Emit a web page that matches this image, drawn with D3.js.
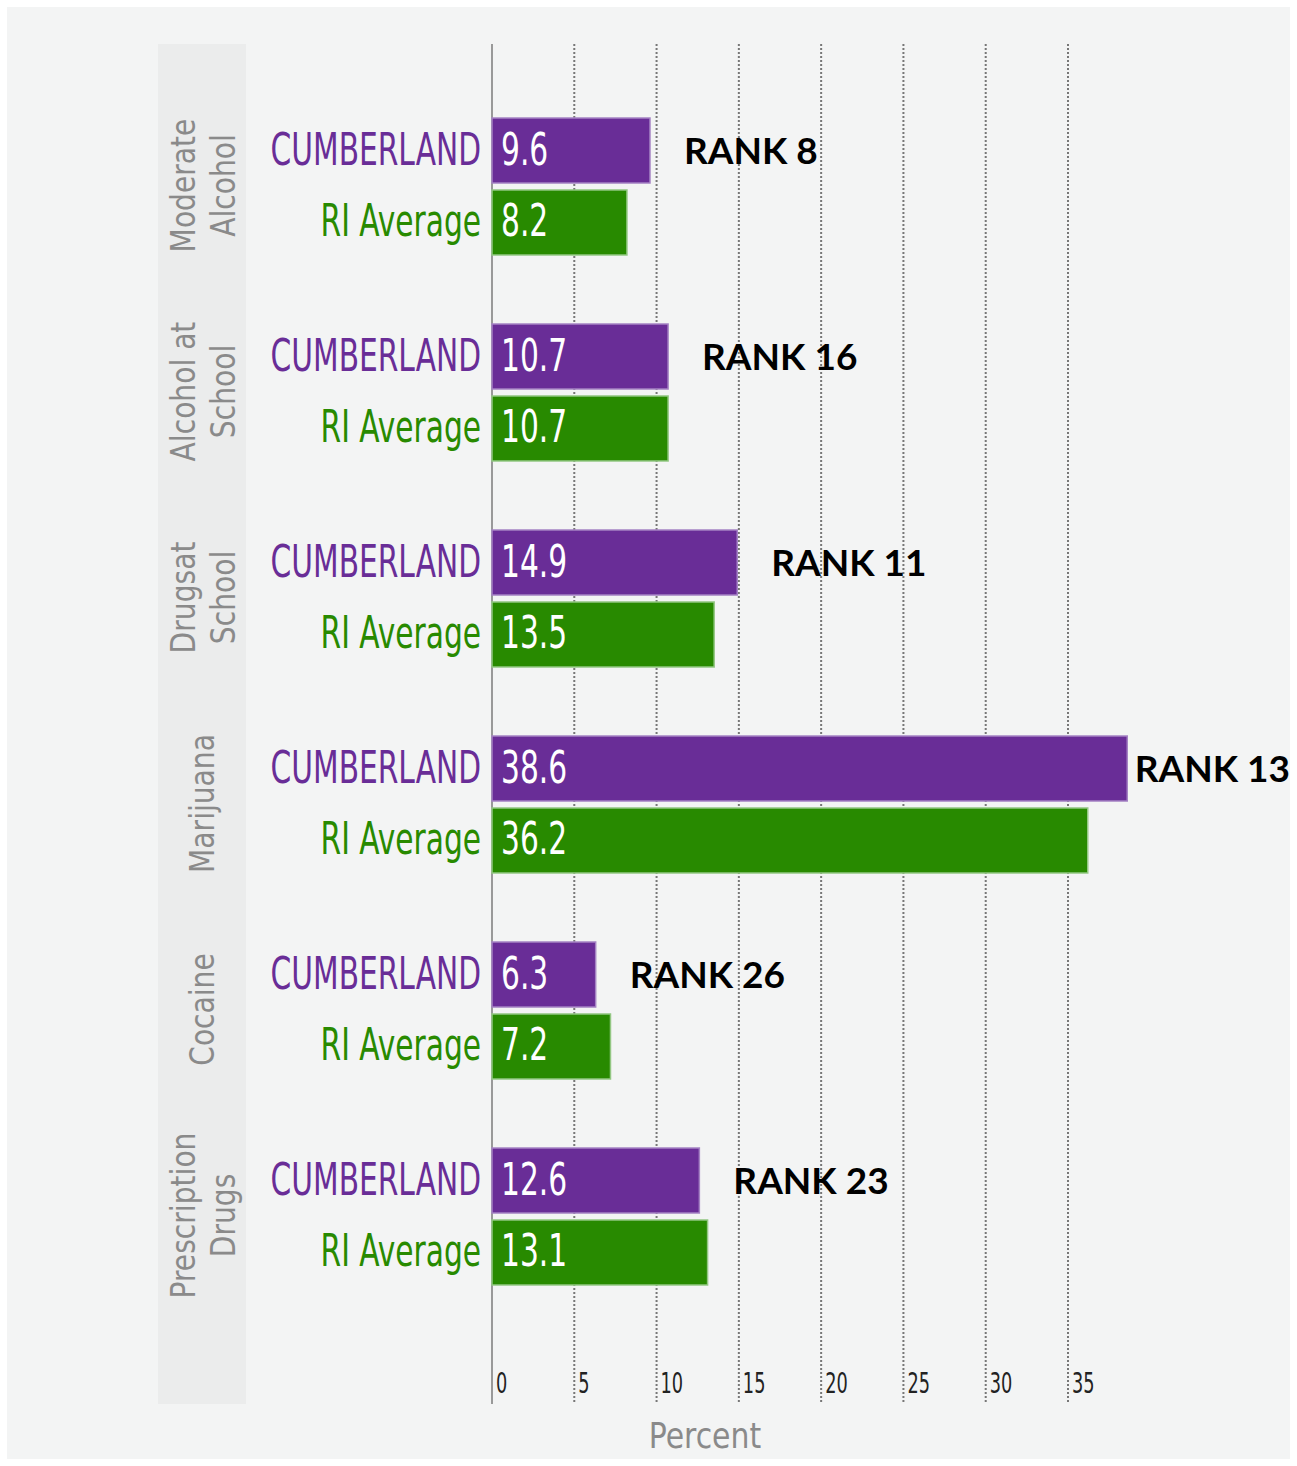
<!DOCTYPE html>
<meta charset="utf-8">
<style>
  body { margin: 0; background: #fff; }
  .narrow { font-family: "Liberation Sans Narrow", "DejaVu Sans Condensed", "Arial Narrow", sans-serif; font-stretch: condensed; }
  .rank { font-family: Lato, "Open Sans", sans-serif; font-weight: 700; fill: #000; }
  .grid line { stroke: #777; stroke-width: 2; stroke-dasharray: 2 2; }
</style>
<body>
<svg id="chart"></svg>
<script src="https://cdnjs.cloudflare.com/ajax/libs/d3/7.8.5/d3.min.js"></script>
<script>
  // data
  var categories = [["Moderate", "Alcohol"], ["Alcohol at", "School"], ["Drugsat", "School"],
                    ["Marijuana"], ["Cocaine"], ["Prescription", "Drugs"]];
  var series = ["CUMBERLAND", "RI Average"];
  var cumberland = [9.6, 10.7, 14.9, 38.6, 6.3, 12.6];
  var riAverage = [8.2, 10.7, 13.5, 36.2, 7.2, 13.1];
  var ranks = ["RANK 8", "RANK 16", "RANK 11", "RANK 13", "RANK 26", "RANK 23"];
  var ticks = [0, 5, 10, 15, 20, 25, 30, 35];

  var width = 1297, height = 1466;
  var colors = { "CUMBERLAND": "#692d97", "RI Average": "#288a00" };
  var strokes = { "CUMBERLAND": "#a583c4", "RI Average": "#93c783" };
  var squeeze = 0.75;

  var svg = d3.select("#chart").attr("width", width).attr("height", height);

  svg.append("rect")
    .attr("x", 7).attr("y", 7)
    .attr("width", width - 14).attr("height", height - 14)
    .attr("fill", "#f3f4f4");

  // left label band
  svg.append("rect")
    .attr("x", 158).attr("y", 44)
    .attr("width", 88).attr("height", 1360)
    .attr("fill", "#ebecec");

  var x = d3.scaleLinear().domain([0, 35]).range([492, 1068]);

  var keys = d3.range(categories.length);
  var y = d3.scaleBand().domain(keys).range([83.5, 83.5 + 206 * keys.length]);
  var yIn = d3.scaleBand().domain(series).range([34.5, 171.5]).paddingInner(0.097);

  // dotted gridlines
  svg.append("g").attr("class", "grid")
    .selectAll("line")
    .data(ticks.slice(1))
    .join("line")
    .attr("x1", function (d) { return x(d); })
    .attr("x2", function (d) { return x(d); })
    .attr("y1", 44).attr("y2", 1402);

  // axis line
  svg.append("line")
    .attr("x1", x(0)).attr("x2", x(0))
    .attr("y1", 44).attr("y2", 1404)
    .attr("stroke", "#999").attr("stroke-width", 2);

  // tick labels
  svg.append("g").selectAll("text")
    .data(ticks)
    .join("text")
    .attr("class", "narrow")
    .attr("transform", function (d) { return "translate(" + (x(d) + 4) + ",1393) scale(0.68,1)"; })
    .attr("font-size", 29)
    .attr("fill", "#222")
    .text(function (d) { return d; });

  svg.append("text")
    .attr("class", "narrow")
    .attr("transform", "translate(705,1448) scale(0.95,1)")
    .attr("text-anchor", "middle")
    .attr("font-size", 35)
    .attr("fill", "#8a8a8a")
    .text("Percent");

  var groups = svg.append("g").selectAll("g")
    .data(keys)
    .join("g")
    .attr("transform", function (i) { return "translate(0," + y(i) + ")"; });

  // category labels, rotated
  groups.each(function (i) {
    var g = d3.select(this);
    var lines = categories[i];
    var cy = y.bandwidth() / 2 - 1;
    var t = g.append("text")
      .attr("class", "narrow")
      .attr("transform", "translate(" + (lines.length > 1 ? 195 : 214) + "," + cy + ") rotate(-90) scale(0.92,1)")
      .attr("text-anchor", "middle")
      .attr("font-size", 34)
      .attr("fill", "#8a8a8a");
    lines.forEach(function (l, j) {
      t.append("tspan").attr("x", 0).attr("dy", j ? 40 : 0).text(l);
    });
  });

  // bars
  groups.each(function (i) {
    var g = d3.select(this);
    var vals = [cumberland[i], riAverage[i]];
    series.forEach(function (s, j) {
      var top = yIn(s), h = yIn.bandwidth();
      g.append("rect")
        .attr("x", x(0))
        .attr("y", top)
        .attr("width", x(vals[j]) - x(0))
        .attr("height", h)
        .attr("fill", colors[s])
        .attr("stroke", strokes[s])
        .attr("stroke-width", 1.5);
      g.append("text")
        .attr("class", "narrow")
        .attr("transform", "translate(" + (x(0) - 11) + "," + (top + h / 2 + 14) + ") scale(" + squeeze + ",1)")
        .attr("text-anchor", "end")
        .attr("font-size", 44)
        .attr("fill", colors[s])
        .text(s);
      g.append("text")
        .attr("class", "narrow")
        .attr("transform", "translate(" + (x(0) + 9) + "," + (top + h / 2 + 14) + ") scale(" + squeeze + ",1)")
        .attr("font-size", 44)
        .attr("fill", "#fff")
        .text(vals[j]);
    });

    var rt = g.append("text")
      .attr("class", "rank")
      .attr("y", yIn("CUMBERLAND") + yIn.bandwidth() / 2 + 13)
      .attr("font-size", 37)
      .text(ranks[i]);
    var w = rt.node().getComputedTextLength();
    rt.attr("x", Math.min(x(cumberland[i]) + 34, width - 7 - w));
  });
</script>
</body>
